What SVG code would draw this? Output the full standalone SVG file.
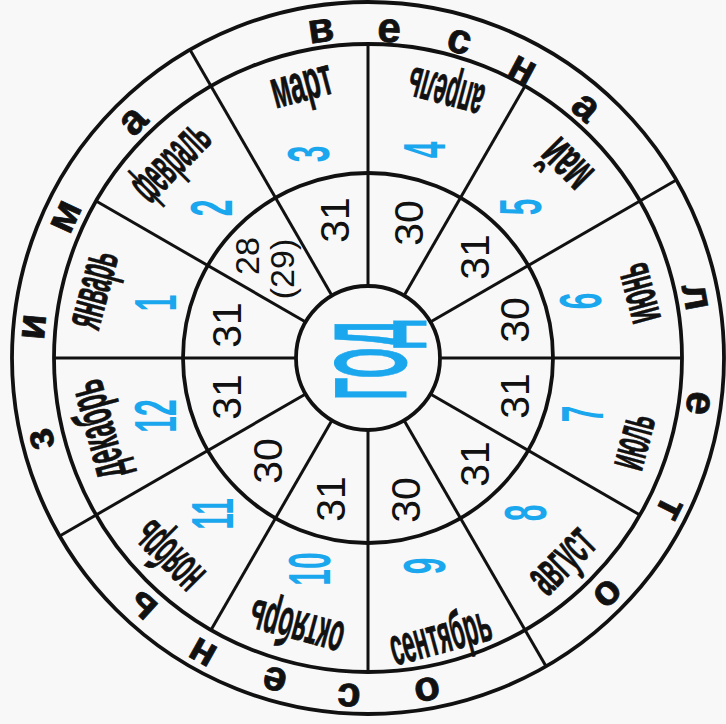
<svg xmlns="http://www.w3.org/2000/svg" width="726" height="724" viewBox="0 0 726 724">
<style>
.ring{fill:none;stroke:#111;stroke-width:3.8}
.sp{stroke:#111;stroke-width:3;fill:none}
.mn{font-family:"Liberation Sans",Arial,sans-serif;font-weight:bold;font-size:54px;fill:#111;stroke:#111;stroke-width:0.8;text-anchor:middle}
.num{font-family:"Liberation Sans",Arial,sans-serif;font-weight:bold;font-size:60px;fill:#1aa7ee;text-anchor:middle}
.d{font-family:"Liberation Sans",Arial,sans-serif;font-size:41px;fill:#111;text-anchor:middle}
.d2{font-family:"Liberation Sans",Arial,sans-serif;font-size:34px;fill:#111;text-anchor:middle}
.s{font-family:"Liberation Sans",Arial,sans-serif;font-weight:bold;font-size:42px;fill:#111;stroke:#111;stroke-width:0.8;text-anchor:middle}
.god{font-family:"Liberation Sans",Arial,sans-serif;font-weight:bold;font-size:102px;fill:#1aa7ee;stroke:#1aa7ee;stroke-width:1;text-anchor:middle}
</style>
<rect width="726" height="724" fill="#f8f8f8"/>
<g id="rings">
<circle class="ring" cx="368" cy="358" r="356"/>
<circle class="ring" cx="368" cy="358" r="314"/>
<circle class="ring" cx="368" cy="358" r="185"/>
<circle class="ring" cx="368" cy="358" r="72"/>
</g>
<g id="connectors">
<line class="sp" x1="368" y1="286" x2="368" y2="44"/>
<line class="sp" x1="404" y1="295.65" x2="525" y2="86.07"/>
<line class="sp" x1="430.35" y1="322" x2="676.3" y2="180"/>
<line class="sp" x1="440" y1="358" x2="682" y2="358"/>
<line class="sp" x1="430.35" y1="394" x2="639.93" y2="515"/>
<line class="sp" x1="404" y1="420.35" x2="546" y2="666.3"/>
<line class="sp" x1="368" y1="430" x2="368" y2="672"/>
<line class="sp" x1="332" y1="420.35" x2="211" y2="629.93"/>
<line class="sp" x1="305.65" y1="394" x2="59.7" y2="536"/>
<line class="sp" x1="296" y1="358" x2="54" y2="358"/>
<line class="sp" x1="305.65" y1="322" x2="96.07" y2="201"/>
<line class="sp" x1="332" y1="295.65" x2="190" y2="49.7"/>
</g>
<g id="year"><text class="god" transform="translate(370,360) rotate(-90)" y="36" textLength="80" lengthAdjust="spacingAndGlyphs">ГОД</text></g>
<g id="m1">
<text class="mn" transform="translate(95,290) rotate(-75)" y="14" textLength="78" lengthAdjust="spacingAndGlyphs">январь</text>
<text class="num" transform="translate(155,303) rotate(-90) scale(0.5,1)" y="21">1</text>
<text class="d" transform="translate(226,325) rotate(-90)" y="15">31</text>
</g>
<g id="m2">
<text class="mn" transform="translate(172,163) rotate(-45)" y="14" textLength="90" lengthAdjust="spacingAndGlyphs">февраль</text>
<text class="num" transform="translate(211,208) rotate(-90) scale(0.5,1)" y="21">2</text>
<text class="d2" transform="translate(247,256) rotate(-90)" y="12">28</text>
<text class="d2" transform="translate(282,269) rotate(-90)" y="12">(29)</text>
</g>
<g id="m3">
<text class="mn" transform="translate(302,87) rotate(-15)" y="14" textLength="62" lengthAdjust="spacingAndGlyphs">март</text>
<text class="num" transform="translate(308,154) rotate(-90) scale(0.5,1)" y="21">3</text>
<text class="d" transform="translate(334,220) rotate(-90)" y="15">31</text>
</g>
<g id="m4">
<text class="mn" transform="translate(446,90) rotate(195)" y="14" textLength="77" lengthAdjust="spacingAndGlyphs">апрель</text>
<text class="num" transform="translate(424,150) rotate(-90) scale(0.5,1)" y="21">4</text>
<text class="d" transform="translate(408,223) rotate(-90)" y="15">30</text>
</g>
<g id="m5">
<text class="mn" transform="translate(568,163) rotate(225)" y="14" textLength="52" lengthAdjust="spacingAndGlyphs">май</text>
<text class="num" transform="translate(520,207) rotate(-90) scale(0.5,1)" y="21">5</text>
<text class="d" transform="translate(474,257) rotate(-90)" y="15">31</text>
</g>
<g id="m6">
<text class="mn" transform="translate(640,293) rotate(255)" y="14" textLength="60" lengthAdjust="spacingAndGlyphs">июнь</text>
<text class="num" transform="translate(580,301) rotate(-90) scale(0.5,1)" y="21">6</text>
<text class="d" transform="translate(514,320) rotate(-90)" y="15">30</text>
</g>
<g id="m7">
<text class="mn" transform="translate(635,442) rotate(-75)" y="14" textLength="55" lengthAdjust="spacingAndGlyphs">июль</text>
<text class="num" transform="translate(582,414) rotate(-90) scale(0.5,1)" y="21">7</text>
<text class="d" transform="translate(514,396) rotate(-90)" y="15">31</text>
</g>
<g id="m8">
<text class="mn" transform="translate(563,562) rotate(-45)" y="14" textLength="72" lengthAdjust="spacingAndGlyphs">август</text>
<text class="num" transform="translate(525,513) rotate(-90) scale(0.5,1)" y="21">8</text>
<text class="d" transform="translate(474,464) rotate(-90)" y="15">31</text>
</g>
<g id="m9">
<text class="mn" transform="translate(441,639) rotate(-15)" y="14" textLength="103" lengthAdjust="spacingAndGlyphs">сентябрь</text>
<text class="num" transform="translate(424,566) rotate(-90) scale(0.5,1)" y="21">9</text>
<text class="d" transform="translate(405,500) rotate(-90)" y="15">30</text>
</g>
<g id="m10">
<text class="mn" transform="translate(297,625) rotate(195)" y="14" textLength="96" lengthAdjust="spacingAndGlyphs">октябрь</text>
<text class="num" transform="translate(309,569) rotate(-90) scale(0.5,1)" y="21">10</text>
<text class="d" transform="translate(330,499) rotate(-90)" y="15">31</text>
</g>
<g id="m11">
<text class="mn" transform="translate(170,555) rotate(225)" y="14" textLength="78" lengthAdjust="spacingAndGlyphs">ноябрь</text>
<text class="num" transform="translate(212,514) rotate(-90) scale(0.5,1)" y="21">11</text>
<text class="d" transform="translate(267,461) rotate(-90)" y="15">30</text>
</g>
<g id="m12">
<text class="mn" transform="translate(100,429) rotate(255)" y="14" textLength="100" lengthAdjust="spacingAndGlyphs">декабрь</text>
<text class="num" transform="translate(155,416) rotate(-90) scale(0.5,1)" y="21">12</text>
<text class="d" transform="translate(226,397) rotate(-90)" y="15">31</text>
</g>
<g id="winter">
<text class="s" transform="translate(42,439) rotate(-104)" y="11">з</text>
<text class="s" transform="translate(34,327) rotate(-84.7)" y="11">и</text>
<text class="s" transform="translate(66,217) rotate(-65)" y="11">м</text>
<text class="s" transform="translate(134,122) rotate(-45)" y="11">а</text>
</g>
<g id="spring">
<text class="s" transform="translate(321,31) rotate(-8.2)" y="11">в</text>
<text class="s" transform="translate(389,31) rotate(3.7)" y="11">е</text>
<text class="s" transform="translate(459,42) rotate(16)" y="11">с</text>
<text class="s" transform="translate(522,70) rotate(28.1)" y="11">н</text>
<text class="s" transform="translate(585,108) rotate(41)" y="11">а</text>
</g>
<g id="summer">
<text class="s" transform="translate(695,297) rotate(79.5)" y="11">л</text>
<text class="s" transform="translate(698,403) rotate(97.9)" y="11">е</text>
<text class="s" transform="translate(669,508) rotate(116.5)" y="11">т</text>
<text class="s" transform="translate(607,593) rotate(134.5)" y="11">о</text>
</g>
<g id="autumn">
<text class="s" transform="translate(427,689) rotate(169.9)" y="11">о</text>
<text class="s" transform="translate(349,695) rotate(183.2)" y="11">с</text>
<text class="s" transform="translate(275,679) rotate(196.2)" y="11">е</text>
<text class="s" transform="translate(203,652) rotate(209.3)" y="11">н</text>
<text class="s" transform="translate(143,605) rotate(222.3)" y="11">ь</text>
</g>
</svg>
